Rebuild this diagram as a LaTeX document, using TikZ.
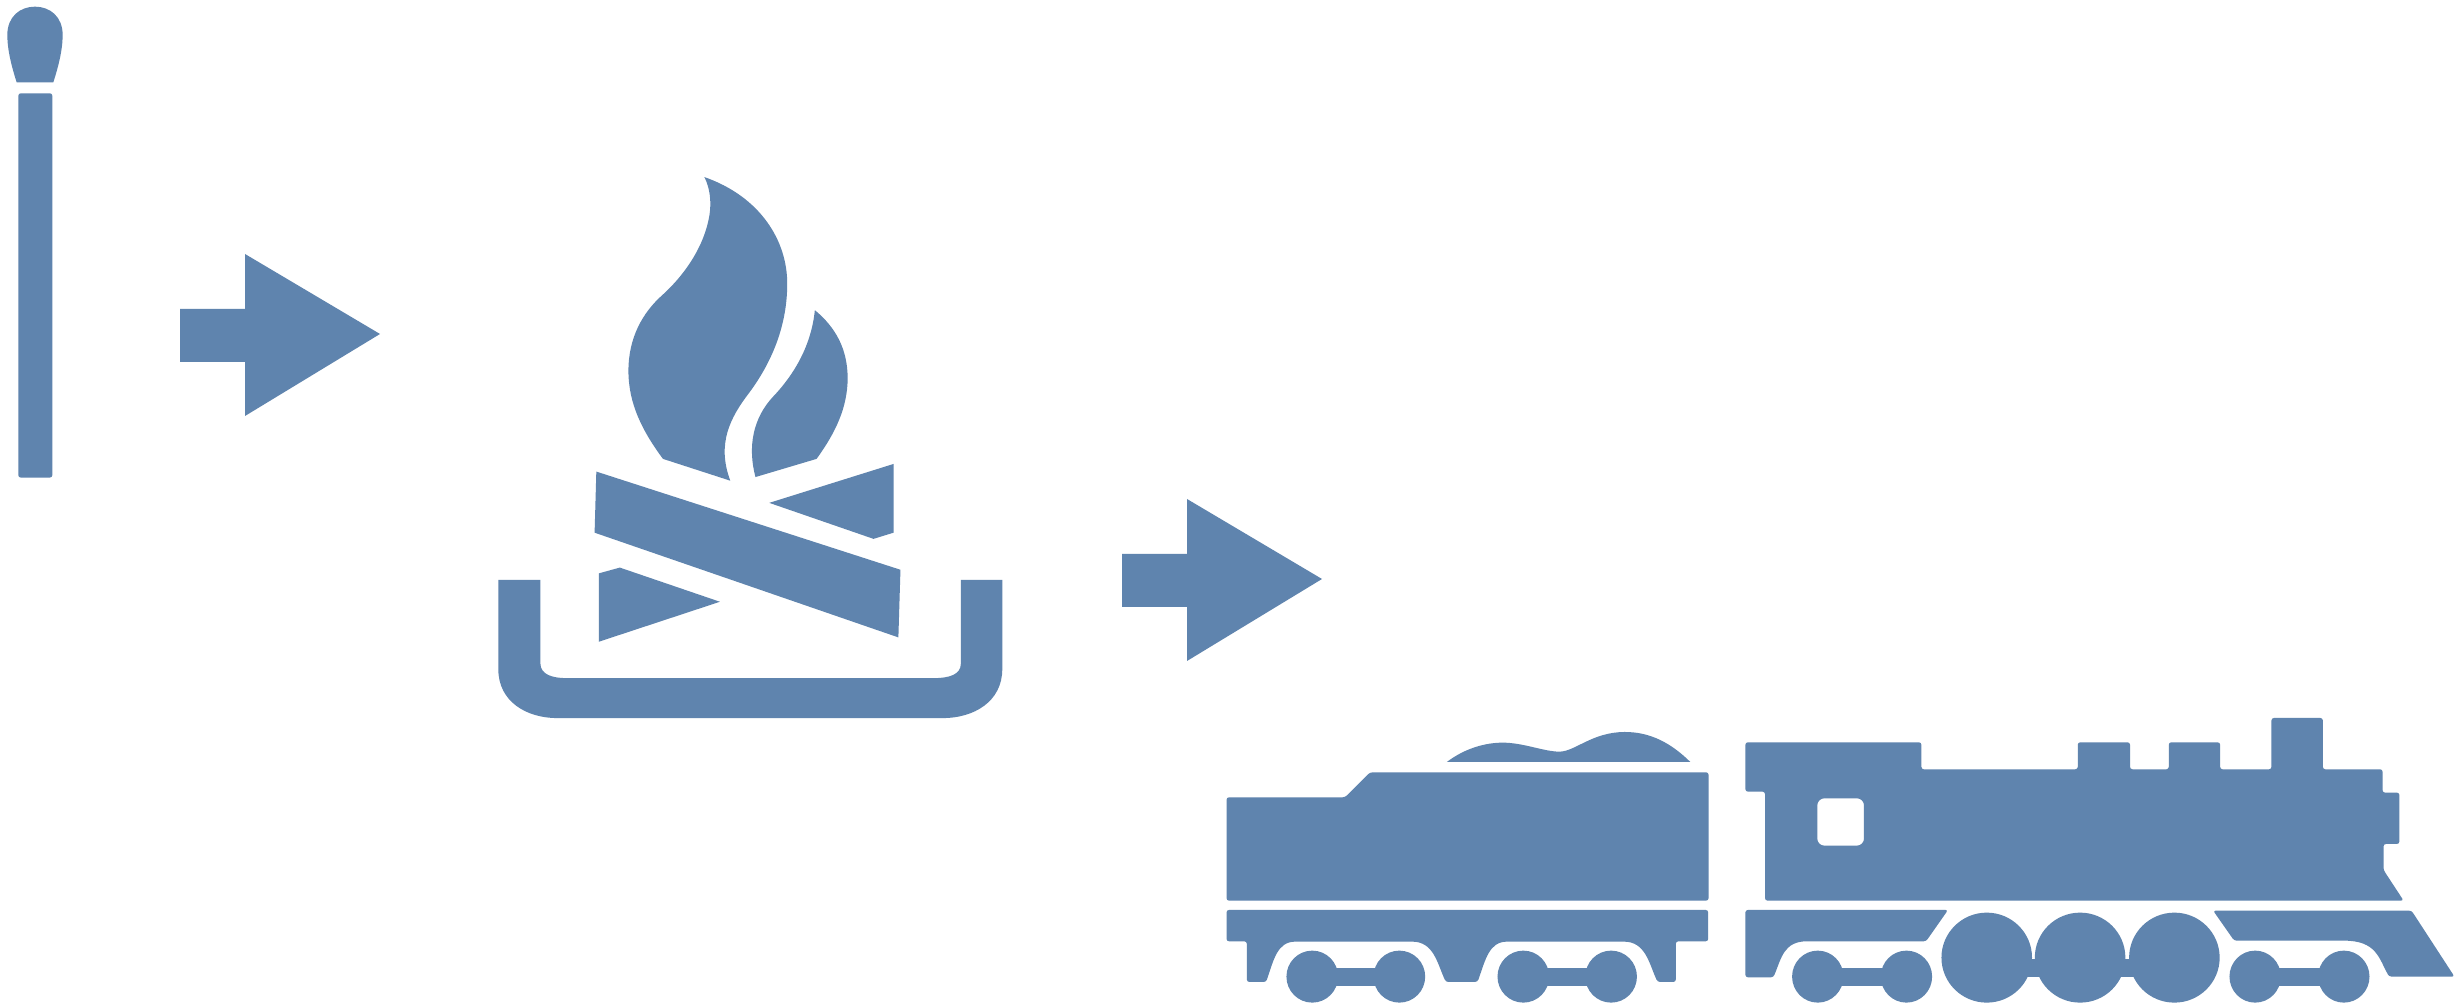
\documentclass[tikz,border=0pt]{standalone}
\usepackage{xcolor}
\usepackage{tikz}
\definecolor{iconblue}{HTML}{5F84AE}
\tikzset{iconpart/.style={fill=iconblue,draw=none},
  trainpart/.style={iconpart,rounded corners=0.7pt}}
\newcommand{\blockarrow}[2]{\begin{scope}[shift={(#1,#2)}]
  \fill[iconblue] (0,55)--(65,55)--(65,0)--(200,80)--(65,162)--(65,108)--(0,108)--cycle;\end{scope}}
\newcommand{\wheelpair}[3]{\fill[iconblue] (#1,830) ellipse [x radius=#3,y radius=78];
  \fill[iconblue] (#2,830) ellipse [x radius=#3,y radius=78];
  \fill[iconblue] (#1,804) rectangle (#2,857);}

\begin{document}
\begin{tikzpicture}[x=0.01cm,y=-0.01cm]
\path[use as bounding box,fill=white] (0,0) rectangle (2462,1007);
% match
\begin{scope}[scale=0.3333]
\fill[iconpart] (50,247)--(160,247) .. controls (175,200) and (188,150) .. (188,105)
  .. controls (188,50) and (150,20) .. (105,20) .. controls (60,20) and (22,50) .. (22,105)
  .. controls (22,150) and (35,200) .. (50,247)--cycle;
\fill[trainpart] (55,280) rectangle (157,1433);
\end{scope}
\blockarrow{180}{254}
\blockarrow{1122}{499}
% campfire
\begin{scope}[shift={(480,160)},xscale=0.3452,yscale=0.3636]
\fill[iconpart] (650,47) .. controls (810,100) and (890,220) .. (890,340)
  .. controls (890,450) and (850,550) .. (780,640) .. controls (725,708) and (685,780) .. (725,882)
  --(530,822) .. controls (470,745) and (430,670) .. (430,580)
  .. controls (430,490) and (470,420) .. (530,370) .. controls (590,318) and (650,240) .. (665,150)
  .. controls (671,112) and (665,75) .. (650,47)--cycle;
\fill[iconpart] (970,413) .. controls (1030,460) and (1065,520) .. (1065,600)
  .. controls (1065,680) and (1030,750) .. (975,822)--(798,872)
  .. controls (775,790) and (790,710) .. (850,650) .. controls (910,590) and (960,510) .. (970,413)--cycle;
\fill[iconpart] (337,857)--(1218,1127)--(1212,1313)--(332,1025)--cycle;
\fill[iconpart] (838,943)--(1198,836)--(1198,1025)--(1140,1042)--cycle;
\fill[iconpart] (344,1137)--(405,1121)--(695,1215)--(344,1325)--cycle;
\fill[iconpart] (53,1155)--(175,1155)--(175,1385) .. controls (175,1415) and (210,1425) .. (250,1425)
  --(1315,1425) .. controls (1360,1425) and (1393,1415) .. (1393,1385)--(1393,1155)--(1513,1155)
  --(1513,1400) .. controls (1513,1490) and (1430,1535) .. (1340,1535)--(225,1535)
  .. controls (135,1535) and (53,1490) .. (53,1400)--cycle;
\end{scope}
% tender
\begin{scope}[shift={(1210,700)},xscale=0.3443,yscale=0.3333]
\fill[trainpart] (48,292)--(392,292)--(465,217)--(1448,217)--(1448,602)--(48,602)--cycle;
\fill[iconpart] (688,186) .. controls (740,145) and (800,128) .. (850,128)
  .. controls (910,128) and (970,155) .. (1015,155) .. controls (1060,155) and (1110,96) .. (1205,96)
  .. controls (1280,96) and (1340,130) .. (1395,186)--cycle;
\fill[trainpart] (48,630)--(1447,630)--(1447,724)--(1353,724)--(1353,846)--(1300,846)
  .. controls (1275,790) and (1265,725) .. (1195,725)--(870,725)
  .. controls (810,725) and (800,780) .. (777,846)--(685,846)
  .. controls (660,790) and (650,725) .. (580,725)--(255,725)
  .. controls (195,725) and (185,780) .. (163,846)--(107,846)--(107,724)--(48,724)--cycle;
\wheelpair{297}{550}{75}
\wheelpair{910}{1165}{75}
\end{scope}
% locomotive
\begin{scope}[shift={(1730,700)},xscale=0.4668,yscale=0.3333]
\fill[trainpart,even odd rule] (33,127)--(410,127)--(410,208)--(745,208)--(745,127)--(857,127)
  --(857,208)--(940,208)--(940,127)--(1050,127)--(1050,208)--(1160,208)--(1160,54)--(1270,54)
  --(1270,208)--(1398,208)--(1398,278)--(1434,278)--(1434,432)--(1400,432)--(1400,510)
  --(1443,602)--(75,602)--(75,275)--(33,275)--cycle
  [rounded corners=2pt] (187,295) rectangle (287,437);
\fill[trainpart] (33,630)--(467,630)--(420,724)--(170,724) .. controls (115,724) and (110,775) .. (93,832)
  --(33,832)--cycle;
\fill[trainpart] (1035,632)--(1460,632)--(1552,830)--(1412,830) .. controls (1390,775) and (1385,722) .. (1310,722)
  --(1080,722)--cycle;
\foreach \wx in {550,750,952}
  \fill[iconblue] (\wx,773) ellipse [x radius=97,y radius=135];
\fill[iconblue] (550,778) rectangle (952,830);
\wheelpair{188}{378}{55}
\wheelpair{1125}{1315}{55}
\end{scope}
\end{tikzpicture}
\end{document}
